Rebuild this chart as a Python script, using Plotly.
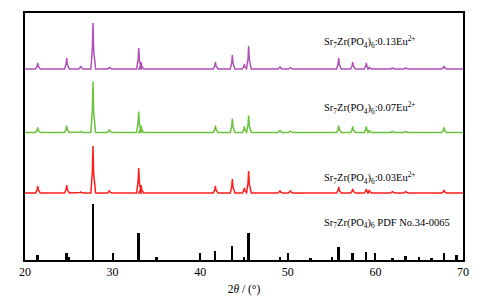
import plotly.graph_objects as go

# --- data ---
peak_pos = [21.45, 24.76, 26.36, 27.76, 29.63, 32.98, 33.25, 41.73, 43.67, 45.04, 45.53,
            49.11, 50.3, 55.81, 57.41, 58.96, 59.3, 61.97, 63.46, 67.83]
red_h    = [7, 8, 1, 47, 2, 25, 8, 7, 14, 5, 22, 2, 2, 6, 4, 4, 3, 1.5, 1.5, 3]
green_h  = [5, 7, 1, 51, 3, 21, 7, 7, 14, 6, 17, 2, 1.5, 7, 6, 6, 2, 1, 1, 5]
purple_h = [6, 11, 3, 46, 2, 21, 7, 7, 14, 5, 23, 2, 1.5, 11, 7, 6, 2, 1, 1, 3]

offsets = {"red": 67, "green": 127.5, "purple": 191}

pdf_pos = [21.45, 24.76, 25.02, 27.76, 32.98, 35.03, 41.73, 43.67, 45.04, 45.53, 49.11,
           52.61, 55.05, 55.81, 57.41, 58.96, 61.97, 63.46, 65.0, 66.42, 67.83, 69.28]
pdf_h   = [5, 7, 3, 56, 27, 3, 9, 14, 3, 27, 3, 2, 3, 13, 7, 8, 2.5, 4, 3, 2, 7, 5]

labels = ["Sr<sub>7</sub>Zr(PO<sub>4</sub>)<sub>6</sub>:0.13Eu<sup>2+</sup>",
          "Sr<sub>7</sub>Zr(PO<sub>4</sub>)<sub>6</sub>:0.07Eu<sup>2+</sup>",
          "Sr<sub>7</sub>Zr(PO<sub>4</sub>)<sub>6</sub>:0.03Eu<sup>2+</sup>",
          "Sr<sub>7</sub>Zr(PO<sub>4</sub>)<sub>6</sub> PDF No.34-0065"]
label_y = [218, 152, 82, 37]
x_ticks = [20, 30, 40, 50, 60, 70]

HW = 0.24  # half base width of a drawn peak (deg)


def profile(pos, heights, base):
    xs, ys = [20.0], [base]
    for p, h in zip(pos, heights):
        xs += [p - HW, p - 0.07, p, p + 0.08, p + HW + 0.06]
        ys += [base, base + h * 0.45, base + h, base + h * 0.4, base]
    xs.append(70.0)
    ys.append(base)
    return xs, ys


fig = go.Figure()
for name, hts, col in [("red", red_h, "#FF1E1E"), ("green", green_h, "#6CC23C"),
                       ("purple", purple_h, "#B050B8")]:
    xs, ys = profile(peak_pos, hts, offsets[name])
    fig.add_trace(go.Scatter(x=xs, y=ys, mode="lines",
                             line=dict(color=col, width=1.5), showlegend=False,
                             hoverinfo="skip"))

fig.add_trace(go.Bar(x=pdf_pos, y=pdf_h, base=0, width=0.22,
                     marker=dict(color="black", line=dict(width=0)),
                     showlegend=False, hoverinfo="skip"))

for t, y in zip(labels, label_y):
    fig.add_annotation(x=53.9, y=y, text=t, showarrow=False, xanchor="left",
                       yanchor="middle",
                       font=dict(family="Liberation Serif", size=10.5, color="black"))

fig.update_layout(
    width=490, height=302,
    margin=dict(l=25, r=27, t=13, b=42),
    paper_bgcolor="white", plot_bgcolor="white",
    font=dict(family="Liberation Serif", size=11, color="black"),
    bargap=0,
)
fig.update_xaxes(range=[20, 70], tickvals=x_ticks, ticks="inside", ticklen=7,
                 tickwidth=1.5, tickcolor="black", showline=True, linecolor="black",
                 linewidth=1.8, mirror=True, showgrid=False, zeroline=False,
                 automargin=False,
                 title=dict(text="2<i>θ</i> / (°)", standoff=7,
                            font=dict(family="Liberation Serif", size=11.5)),
                 tickfont=dict(family="Liberation Serif", size=12))
fig.update_yaxes(range=[0, 247], showticklabels=False, ticks="", showline=True,
                 linecolor="black", linewidth=1.8, mirror=True, showgrid=False,
                 zeroline=False)

fig.write_html("out.html", config={"displayModeBar": False},
               post_script="document.body.style.margin='0';document.body.style.overflow='hidden';")
